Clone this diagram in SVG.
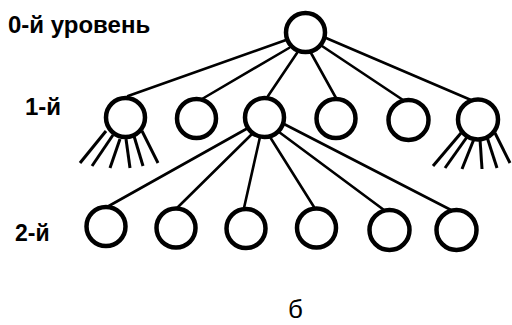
<svg xmlns="http://www.w3.org/2000/svg" width="512" height="325" viewBox="0 0 512 325">
<style>
.n{fill:#fff;stroke:#000;stroke-width:4.5}
.e{stroke:#000;stroke-width:2.6;stroke-linecap:round;fill:none}
.f{stroke:#000;stroke-width:3;stroke-linecap:butt;fill:none}
.t{font-family:"Liberation Sans",Arial,sans-serif;font-weight:bold;fill:#000}
</style>
<rect width="512" height="325" fill="#fff"/>
<g id="connectors">
<line class="e" x1="128" y1="96" x2="286" y2="40"/>
<line class="e" x1="202" y1="99" x2="289" y2="48"/>
<line class="e" x1="266" y1="99" x2="297" y2="53"/>
<line class="e" x1="336" y1="98" x2="311" y2="53"/>
<line class="e" x1="403" y1="100" x2="322" y2="46"/>
<line class="e" x1="471" y1="100" x2="326" y2="38"/>
<line class="e" x1="248" y1="128" x2="107" y2="207"/>
<line class="e" x1="252" y1="134" x2="177" y2="208"/>
<line class="e" x1="260" y1="137" x2="244" y2="208"/>
<line class="e" x1="270" y1="137" x2="314" y2="207"/>
<line class="e" x1="279" y1="132" x2="384" y2="210"/>
<line class="e" x1="284" y1="124" x2="451" y2="210"/>
<line class="f" x1="106" y1="131" x2="80" y2="163"/>
<line class="f" x1="113" y1="135" x2="92" y2="166"/>
<line class="f" x1="120" y1="139" x2="110" y2="168"/>
<line class="f" x1="126" y1="139" x2="130" y2="168"/>
<line class="f" x1="134" y1="136" x2="143" y2="166"/>
<line class="f" x1="142" y1="131" x2="158" y2="163"/>
<line class="f" x1="461" y1="133" x2="433" y2="166"/>
<line class="f" x1="467" y1="137" x2="445" y2="168"/>
<line class="f" x1="474" y1="139" x2="462" y2="169"/>
<line class="f" x1="480" y1="139" x2="482" y2="169"/>
<line class="f" x1="487" y1="137" x2="497" y2="168"/>
<line class="f" x1="495" y1="133" x2="510" y2="163"/>
</g>
<g id="root"><circle class="n" cx="305.5" cy="32.5" r="19.5"/></g>
<g id="l1-1"><circle class="n" cx="125.5" cy="117.5" r="19.5"/></g>
<g id="l1-2"><circle class="n" cx="196.5" cy="118.5" r="19.5"/></g>
<g id="l1-3"><circle class="n" cx="264.5" cy="117.5" r="19.5"/></g>
<g id="l1-4"><circle class="n" cx="336" cy="118.5" r="19.5"/></g>
<g id="l1-5"><circle class="n" cx="408.5" cy="120" r="20"/></g>
<g id="l1-6"><circle class="n" cx="478" cy="119.5" r="20"/></g>
<g id="l2-1"><circle class="n" cx="106" cy="226.5" r="19.5"/></g>
<g id="l2-2"><circle class="n" cx="176" cy="228" r="19.5"/></g>
<g id="l2-3"><circle class="n" cx="246" cy="228.5" r="19.5"/></g>
<g id="l2-4"><circle class="n" cx="316.5" cy="228" r="19.5"/></g>
<g id="l2-5"><circle class="n" cx="389.5" cy="230" r="20"/></g>
<g id="l2-6"><circle class="n" cx="456.5" cy="230" r="20"/></g>
<g id="labels">
<text class="t" x="8" y="33" font-size="24">0-й уровень</text>
<text class="t" x="25" y="115" font-size="24">1-й</text>
<text class="t" x="15" y="241" font-size="23">2-й</text>
<text x="288" y="318" font-size="26" font-family="Liberation Sans,Arial,sans-serif" fill="#000">б</text>
</g>
</svg>
